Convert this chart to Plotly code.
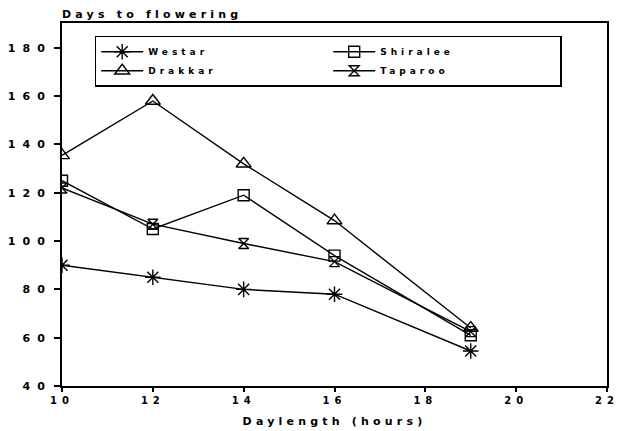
import plotly.graph_objects as go

# ---- data ----
daylength = [10, 12, 14, 16, 19]
westar = [90, 85, 80, 78, 54.5]
drakkar = [135.5, 158, 132, 108.5, 64]
shiralee = [125, 105, 119, 94, 61]
taparoo = [122, 107, 99, 91.5, 62.5]

x_ticks = [10, 12, 14, 16, 18, 20, 22]
y_ticks = [40, 60, 80, 100, 120, 140, 160, 180]

FONT = "DejaVu Sans"


def spaced(t, ls):
    return f'<span style="letter-spacing:{ls}px">{t}</span>'


series = [
    ("Westar", westar, "asterisk-open", 13),
    ("Shiralee", shiralee, "square-open", 11),
    ("Drakkar", drakkar, "triangle-up-open", 13),
    ("Taparoo", taparoo, "hourglass-open", 10),
]

fig = go.Figure()
for name, vals, sym, sz in series:
    fig.add_trace(go.Scatter(
        x=daylength, y=vals, mode="lines+markers",
        name=spaced(f"<b>{name}</b>", 4),
        line=dict(color="black", width=1.4),
        marker=dict(symbol=sym, size=sz, color="black",
                    line=dict(color="black", width=1.4)),
    ))

fig.update_layout(
    width=618, height=431,
    margin=dict(l=62, r=11, t=23, b=45, autoexpand=False),
    paper_bgcolor="white", plot_bgcolor="white",
    font=dict(family=FONT, color="black", size=10),
    title=dict(text=spaced("<b>Days to flowering</b>", 4.2), x=0, xref="paper",
               xanchor="left", y=1 - 14 / 431, yanchor="middle",
               font=dict(size=11, family=FONT)),
    legend=dict(orientation="h", x=0.06, y=0.965, xanchor="left", yanchor="top",
                bordercolor="black", borderwidth=1.5, bgcolor="white",
                entrywidth=175, entrywidthmode="pixels",
                font=dict(size=9, family=FONT), itemwidth=42,
                tracegroupgap=0, traceorder="normal"),
    showlegend=True,
)
fig.update_xaxes(
    range=[10, 22], tickvals=x_ticks,
    ticktext=[spaced(f"<b>{v}</b>", 5) for v in x_ticks],
    showline=True, mirror=True, linecolor="black", linewidth=2,
    ticks="outside", ticklen=4, tickwidth=1.5, tickcolor="black",
    showgrid=False, zeroline=False, automargin=False,
    ticklabeloverflow="allow",
    title=dict(text=spaced("<b>Daylength (hours)</b>", 4.2), standoff=12,
               font=dict(size=11, family=FONT)),
)
fig.update_yaxes(
    range=[40, 190.3], tickvals=y_ticks,
    ticktext=[spaced(f"<b>{v}</b>", 7) for v in y_ticks],
    showline=True, mirror=True, linecolor="black", linewidth=2,
    ticks="outside", ticklen=6, tickwidth=1.5, tickcolor="black",
    showgrid=False, zeroline=False, tickfont=dict(size=11), automargin=False,
    ticklabeloverflow="allow",
)

fig.write_html("out.html")
